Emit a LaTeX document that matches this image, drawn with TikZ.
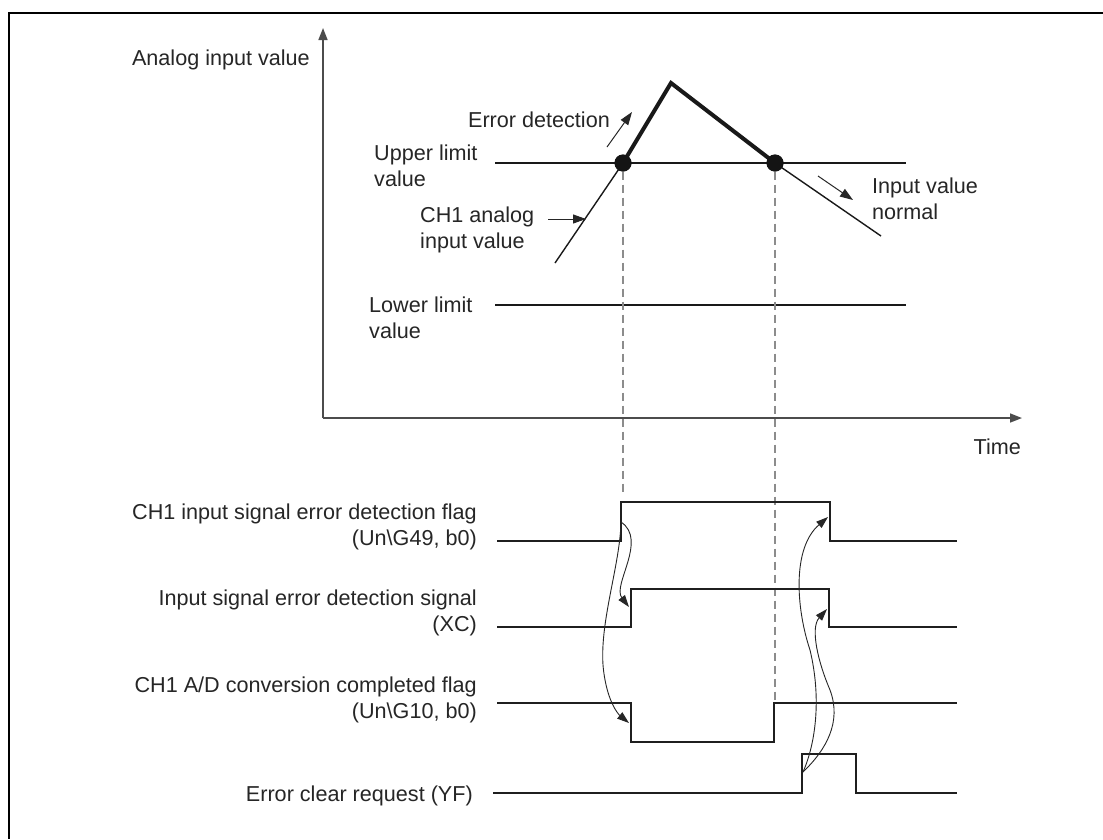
\documentclass[tikz,border=0pt]{standalone}
\usepackage{fontspec}
\setmainfont{Liberation Sans}
\usetikzlibrary{arrows.meta}
\begin{document}
\begin{tikzpicture}[x=1pt,y=-1pt,
  lbl/.style={inner sep=0pt, font=\fontsize{21.6}{25.5}\selectfont, text=black!85},
  frameline/.style={line width=2.6pt, draw=black},
  axis/.style={line width=1.6pt, draw=black!70, -{Triangle[length=12pt,width=9pt]}},
  limitline/.style={line width=1.3pt, draw=black!90},
  thinval/.style={line width=1.4pt, draw=black!90},
  thickval/.style={line width=4pt, draw=black!90, line join=miter},
  dot/.style={circle, fill=black!92, inner sep=0pt, minimum size=17pt},
  smallarrow/.style={line width=1pt, draw=black!85, -{Triangle[length=13pt,width=9pt]}},
  guide/.style={line width=1.6pt, draw=black!45, dash pattern=on 8pt off 5pt},
  sig/.style={line width=2.4pt, draw=black!88, line join=miter},
  curvearrow/.style={line width=0.9pt, draw=black!85, -{Triangle[length=12pt,width=8pt]}},
  curveline/.style={line width=0.9pt, draw=black!85}]
\useasboundingbox (0,0) rectangle (1103,839);
\fill[white] (0,0) rectangle (1103,839);
% frame (top and left edges only)
\coordinate (ftl) at (9,13);
\coordinate (ftr) at (1103,13);
\coordinate (fbl) at (9,839);
\draw[frameline] (ftr) -- (ftl) -- (fbl);

% axes
\coordinate (org) at (323,418);
\coordinate (ytip) at (323,28);
\coordinate (xtip) at (1022,418);
\draw[axis] (org) -- (ytip);
\draw[axis] (org) -- (xtip);
\node[lbl, anchor=north east] (ylab) at (310,50) {Analog input value};
\node[lbl, anchor=north east] (xlab) at (1021,439) {Time};

% limit lines
\coordinate (ul0) at (495,163);
\coordinate (ul1) at (906,163);
\coordinate (ll0) at (495,305);
\coordinate (ll1) at (906,305);
\draw[limitline] (ul0) -- (ul1);
\draw[limitline] (ll0) -- (ll1);
\node[lbl, anchor=north west, align=left] (ultxt) at (374,145) {Upper limit\\value};
\node[lbl, anchor=north west, align=left] (lltxt) at (369,297) {Lower limit\\value};

% analog value curve
\coordinate (g0) at (555,263);
\node[dot] (d1) at (623,163) {};
\coordinate (peak) at (671,83);
\node[dot] (d2) at (775,163) {};
\coordinate (g3) at (881,236);
\draw[thinval] (g0) -- (d1.center);
\draw[thickval] (d1.center) -- (peak) -- (d2.center);
\draw[thinval] (d2.center) -- (g3);
\node[dot] at (d1) {};
\node[dot] at (d2) {};

% annotations
\node[lbl, anchor=north east] (errdet) at (610,112) {Error detection};
\coordinate (ea0) at (607,147);
\coordinate (ea1) at (632,112);
\draw[smallarrow] (ea0) -- (ea1);
\node[lbl, anchor=north west, align=left] (ch1txt) at (420,207) {CH1 analog\\input value};
\coordinate (ca0) at (548,219);
\coordinate (ca1) at (586,219);
\draw[smallarrow] (ca0) -- (ca1);
\node[lbl, anchor=north west, align=left] (normtxt) at (872,178) {Input value\\normal};
\coordinate (na0) at (818,176);
\coordinate (na1) at (853,200);
\draw[smallarrow] (na0) -- (na1);

% dashed guides
\coordinate (gd1) at (623,493);
\coordinate (gd2) at (775,702);
\draw[guide] (d1.south) -- (gd1);
\draw[guide] (d2.south) -- (gd2);

% signal labels
\node[lbl, anchor=north east, align=right] (l1) at (477,504) {CH1 input signal error detection flag\\(Un\textbackslash G49, b0)};
\node[lbl, anchor=north east, align=right] (l2) at (477,590) {Input signal error detection signal\\(XC)};
\node[lbl, anchor=north east, align=right] (l3) at (477,677) {CH1 A/D conversion completed flag\\(Un\textbackslash G10, b0)};
\node[lbl, anchor=north east] (l4) at (473,786) {Error clear request (YF)};

% signals
\draw[sig] (497,541) -- (621,541) -- (621,502) -- (830,502) -- (830,541) -- (957,541);
\draw[sig] (497,627) -- (631,627) -- (631,589) -- (829,589) -- (829,627) -- (957,627);
\draw[sig] (497,703) -- (631,703) -- (631,742) -- (774,742) -- (774,703) -- (957,703);
\draw[sig] (493,793) -- (802,793) -- (802,754) -- (856,754) -- (856,793) -- (957,793);

% causal curves
\coordinate (s1r) at (621,522);
\coordinate (s2r) at (629,607);
\coordinate (s3f) at (629,723);
\coordinate (s4r) at (803,772);
\coordinate (s1f) at (828,517);
\coordinate (s2f) at (827,609);
\coordinate (mB) at (603,665);
\coordinate (mC) at (810,650);
\coordinate (mD) at (830,690);
\draw[curvearrow] (s1r) .. controls (648,540) and (612,585) .. (s2r);
\draw[curveline] (s1r) .. controls (620,565) and (600,620) .. (mB);
\draw[curvearrow] (mB) .. controls (606,700) and (618,714) .. (s3f);
\draw[curveline] (s4r) .. controls (815,745) and (822,700) .. (mC);
\draw[curvearrow] (mC) .. controls (796,608) and (792,548) .. (s1f);
\draw[curveline] (s4r) .. controls (826,750) and (842,722) .. (mD);
\draw[curvearrow] (mD) .. controls (818,662) and (810,628) .. (s2f);
\end{tikzpicture}
\end{document}
